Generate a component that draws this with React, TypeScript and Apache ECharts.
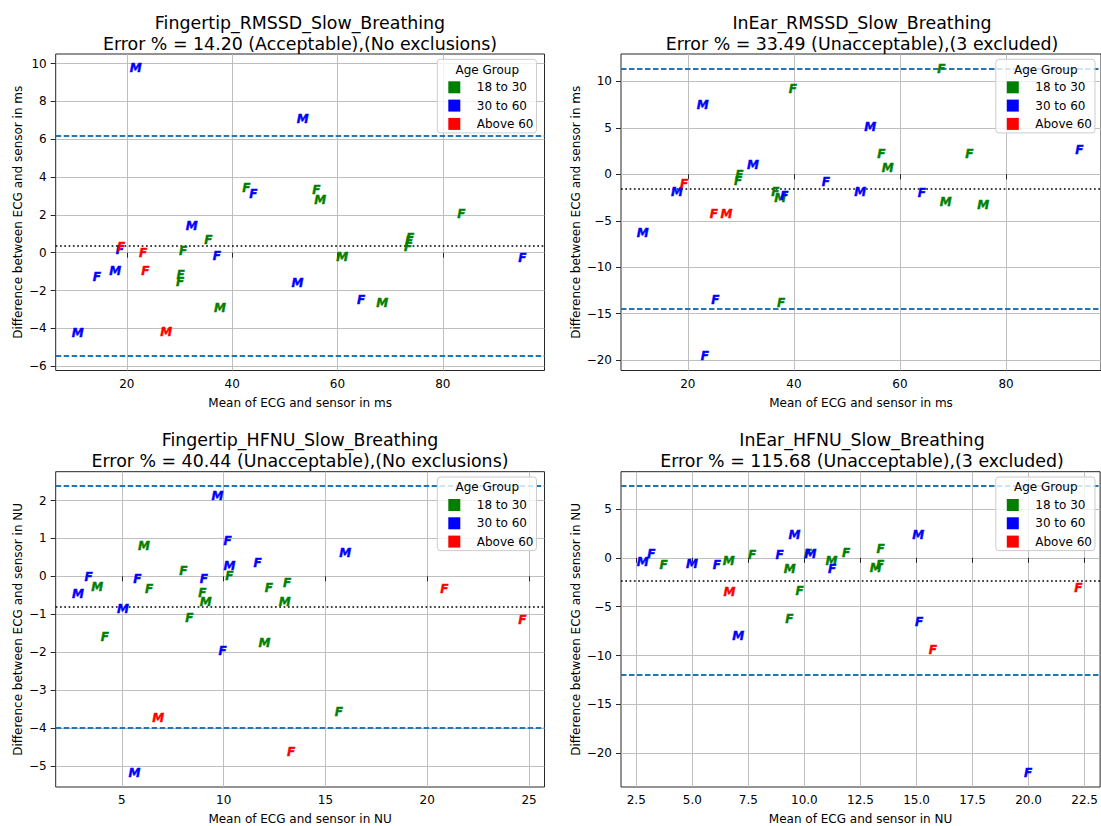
import React, { useEffect, useRef } from 'react';
import * as echarts from 'echarts';

type Pt = [number, number, string, number]; // mean, difference, sex, age-group index

const groups = ['18 to 30', '30 to 60', 'Above 60'];
const groupColors = ['#008000', '#0000ff', '#ff0000'];

const titles = [
  'Fingertip_RMSSD_Slow_Breathing\nError % = 14.20 (Acceptable),(No exclusions)',
  'InEar_RMSSD_Slow_Breathing\nError % = 33.49 (Unacceptable),(3 excluded)',
  'Fingertip_HFNU_Slow_Breathing\nError % = 40.44 (Unacceptable),(No exclusions)',
  'InEar_HFNU_Slow_Breathing\nError % = 115.68 (Unacceptable),(3 excluded)',
];
const xNames = [
  'Mean of ECG and sensor in ms',
  'Mean of ECG and sensor in ms',
  'Mean of ECG and sensor in NU',
  'Mean of ECG and sensor in NU',
];
const yNames = [
  'Difference between ECG and sensor in ms',
  'Difference between ECG and sensor in ms',
  'Difference between ECG and sensor in NU',
  'Difference between ECG and sensor in NU',
];

const fingertipRmssd: Pt[] = [
  [21.7, 9.75, 'M', 1], [53.4, 7.09, 'M', 1], [42.7, 3.44, 'F', 0], [44.0, 3.10, 'F', 1],
  [56.0, 3.30, 'F', 0], [56.7, 2.80, 'M', 0], [83.5, 2.03, 'F', 0], [32.3, 1.41, 'M', 1],
  [35.5, 0.67, 'F', 0], [30.7, 0.09, 'F', 0], [37.1, -0.19, 'F', 1], [18.7, 0.14, 'F', 1],
  [18.9, 0.28, 'F', 2], [23.1, 0.0, 'F', 2], [23.5, -0.99, 'F', 2], [30.2, -1.18, 'F', 0],
  [30.1, -1.55, 'F', 0], [17.8, -0.99, 'M', 1], [14.3, -1.27, 'F', 1], [60.9, -0.23, 'M', 0],
  [73.4, 0.30, 'F', 0], [73.6, 0.60, 'F', 0], [73.8, 0.78, 'F', 0], [95.1, -0.26, 'F', 1],
  [52.4, -1.62, 'M', 1], [64.5, -2.50, 'F', 1], [68.5, -2.65, 'M', 0], [37.7, -2.95, 'M', 0],
  [10.7, -4.23, 'M', 1], [27.5, -4.18, 'M', 2],
];
const inEarRmssd: Pt[] = [
  [67.8, 11.33, 'F', 0], [39.8, 9.14, 'F', 0], [22.8, 7.46, 'M', 1], [54.4, 5.13, 'M', 1],
  [56.5, 2.15, 'F', 0], [93.8, 2.58, 'F', 1], [73.1, 2.22, 'F', 0], [57.7, 0.72, 'M', 0],
  [32.3, 1.00, 'M', 1], [29.7, -0.04, 'F', 0], [29.5, -0.72, 'F', 0], [19.3, -1.08, 'F', 2],
  [17.97, -1.86, 'M', 1], [46.0, -0.86, 'F', 1], [52.5, -1.90, 'M', 1], [64.1, -1.97, 'F', 1],
  [36.5, -1.90, 'F', 0], [37.4, -2.51, 'M', 0], [38.2, -2.37, 'F', 1], [68.6, -2.94, 'M', 0],
  [75.7, -3.26, 'M', 0], [24.9, -4.30, 'F', 2], [27.3, -4.30, 'M', 2], [11.5, -6.27, 'M', 1],
  [25.2, -13.48, 'F', 1], [37.6, -13.9, 'F', 0], [23.2, -19.57, 'F', 1],
];
const fingertipHfnu: Pt[] = [
  [9.69, 2.12, 'M', 1], [10.19, 0.92, 'F', 1], [6.09, 0.80, 'M', 0], [15.97, 0.61, 'M', 1],
  [10.29, 0.27, 'M', 1], [11.67, 0.34, 'F', 1], [8.02, 0.13, 'F', 0], [10.28, 0.0, 'F', 0],
  [3.36, -0.03, 'F', 1], [5.76, -0.07, 'F', 1], [9.03, -0.07, 'F', 1], [3.79, -0.29, 'M', 0],
  [6.34, -0.33, 'F', 0], [12.22, -0.30, 'F', 0], [13.12, -0.18, 'F', 0], [20.84, -0.33, 'F', 2],
  [2.84, -0.47, 'M', 1], [8.95, -0.45, 'F', 0], [9.12, -0.67, 'M', 0], [13.0, -0.67, 'M', 0],
  [5.05, -0.86, 'M', 1], [8.31, -1.10, 'F', 0], [24.67, -1.15, 'F', 2], [4.16, -1.60, 'F', 0],
  [12.0, -1.77, 'M', 0], [9.95, -1.97, 'F', 1], [15.66, -3.58, 'F', 0], [6.78, -3.74, 'M', 2],
  [13.31, -4.64, 'F', 2], [5.62, -5.18, 'M', 1],
];
const inEarHfnu: Pt[] = [
  [9.56, 2.34, 'M', 1], [15.08, 2.31, 'M', 1], [13.40, 0.92, 'F', 0], [3.17, 0.41, 'F', 1],
  [11.86, 0.48, 'F', 0], [7.67, 0.24, 'F', 0], [8.89, 0.31, 'F', 1], [10.15, 0.40, 'F', 0],
  [10.27, 0.37, 'M', 1], [2.79, -0.44, 'M', 1], [3.72, -0.75, 'F', 0], [4.98, -0.65, 'M', 1],
  [6.09, -0.71, 'F', 1], [6.63, -0.37, 'M', 0], [11.21, -0.31, 'M', 0], [11.23, -1.12, 'F', 1],
  [9.34, -1.12, 'M', 0], [13.18, -1.09, 'M', 0], [13.38, -0.71, 'F', 0], [6.66, -3.53, 'M', 2],
  [9.79, -3.40, 'F', 0], [22.22, -3.09, 'F', 2], [9.33, -6.28, 'F', 0], [15.12, -6.56, 'F', 1],
  [7.05, -8.02, 'M', 1], [15.73, -9.48, 'F', 2], [19.98, -21.98, 'F', 1],
];

const meanDiff = [0.37, -1.51, -0.81, -2.31];
const upperLoA = [6.19, 11.40, 2.38, 7.34];
const lowerLoA = [-5.45, -14.44, -3.99, -11.92];

const xTicks = [
  [20, 40, 60, 80],
  [20, 40, 60, 80],
  [5, 10, 15, 20, 25],
  [2.5, 5, 7.5, 10, 12.5, 15, 17.5, 20, 22.5],
];
const yTicks = [
  [-6, -4, -2, 0, 2, 4, 6, 8, 10],
  [-20, -15, -10, -5, 0, 5, 10],
  [-5, -4, -3, -2, -1, 0, 1, 2],
  [-20, -15, -10, -5, 0, 5],
];
const xLimits = [[6.5, 99.3], [7.4, 97.9], [1.75, 25.76], [1.82, 23.19]];
const yLimits = [[-6.23, 10.51], [-21.12, 12.95], [-5.56, 2.76], [-23.45, 8.81]];
const xDecimals = [0, 0, 0, 1];

const panelData = [fingertipRmssd, inEarRmssd, fingertipHfnu, inEarHfnu];

const FONT = 'DejaVu Sans';
const layout = [
  { left: 55.7, top: 54, width: 488.8, height: 316.5, cx: 300, legendLeft: 437.3, yGap: 32 },
  { left: 621, top: 54, width: 482, height: 316.5, cx: 862, legendLeft: 995.8, yGap: 39 },
  { left: 55.7, top: 471.7, width: 488.8, height: 316.6, cx: 300, legendLeft: 437.3, yGap: 32 },
  { left: 621, top: 471.7, width: 482, height: 316.6, cx: 862, legendLeft: 995.8, yGap: 39 },
];

const fmt = (v: number, d: number) => {
  const s = Math.abs(v).toFixed(d);
  return v < 0 ? '\u2212' + s : s;
};

function buildOption() {
  const grid: any[] = [];
  const xAxis: any[] = [];
  const yAxis: any[] = [];
  const series: any[] = [];
  const legend: any[] = [];
  const title: any[] = [];
  const graphic: any[] = [];

  layout.forEach((L, i) => {
    grid.push({
      left: L.left, top: L.top, width: L.width, height: L.height,
      show: true, borderColor: '#262626', borderWidth: 1, backgroundColor: 'transparent',
    });
    const xi = xTicks[i][1] - xTicks[i][0];
    const yi = yTicks[i][1] - yTicks[i][0];
    xAxis.push({
      type: 'value', gridIndex: i, min: xLimits[i][0], max: xLimits[i][1],
      minInterval: xi, maxInterval: xi,
      name: xNames[i], nameLocation: 'middle', nameGap: 26,
      nameTextStyle: { fontSize: 12, color: '#000', fontFamily: FONT },
      axisLine: { show: false },
      axisTick: { show: true, length: 5, customValues: xTicks[i], lineStyle: { color: '#262626', width: 1 } },
      axisLabel: {
        customValues: xTicks[i], margin: 7, fontSize: 12, color: '#000', fontFamily: FONT,
        formatter: (v: number) => fmt(v, xDecimals[i]),
      },
      splitLine: { show: true, lineStyle: { color: '#b8b8b8', width: 0.9 } },
    });
    yAxis.push({
      type: 'value', gridIndex: i, min: yLimits[i][0], max: yLimits[i][1],
      minInterval: yi, maxInterval: yi,
      name: yNames[i], nameLocation: 'middle', nameGap: L.yGap,
      nameTextStyle: { fontSize: 12, color: '#000', fontFamily: FONT },
      axisLine: { show: false },
      axisTick: { show: true, length: 5, customValues: yTicks[i], lineStyle: { color: '#262626', width: 1 } },
      axisLabel: {
        customValues: yTicks[i], margin: 9, fontSize: 12, color: '#000', fontFamily: FONT,
        formatter: (v: number) => fmt(v, 0),
      },
      splitLine: { show: true, lineStyle: { color: '#b8b8b8', width: 0.9 } },
    });

    series.push({
      type: 'line', name: 'limits' + i, xAxisIndex: i, yAxisIndex: i, data: [], z: 2,
      markLine: {
        silent: true, symbol: ['none', 'none'], label: { show: false }, animation: false,
        data: [
          { yAxis: upperLoA[i], lineStyle: { color: '#1f77b4', width: 1.8, type: [5.5, 2.5] } },
          { yAxis: lowerLoA[i], lineStyle: { color: '#1f77b4', width: 1.8, type: [5.5, 2.5] } },
          { yAxis: meanDiff[i], lineStyle: { color: '#000', width: 1.7, type: [1.7, 2.6] } },
        ],
      },
    });

    groups.forEach((g, gi) => {
      const pts = panelData[i].filter((p) => p[3] === gi);
      series.push({
        type: 'custom', name: g, xAxisIndex: i, yAxisIndex: i, z: 5,
        itemStyle: { color: groupColors[gi] },
        data: pts.map((p) => [p[0], p[1]]),
        renderItem: (params: any, api: any) => {
          const p = pts[params.dataIndex];
          const c = api.coord([p[0], p[1]]);
          return {
            type: 'text', x: c[0], y: c[1],
            style: {
              text: p[2], fill: groupColors[gi], stroke: groupColors[gi], lineWidth: 0.4,
              fontSize: 12, fontWeight: 'bold',
              fontStyle: 'italic', fontFamily: FONT, align: 'center', verticalAlign: 'middle',
            },
          };
        },
      });
    });

    legend.push({
      orient: 'vertical', left: L.legendLeft, top: L.top + 5.3,
      itemWidth: 12, itemHeight: 12, itemGap: 6.3, padding: [22, 3, 3, 11],
      backgroundColor: 'rgba(255,255,255,0.8)', borderColor: '#cccccc', borderWidth: 1, borderRadius: 3,
      formatter: (name: string) => '\u00a0\u00a0\u00a0' + name,
      textStyle: { fontSize: 12, color: '#000', fontFamily: FONT },
      selectedMode: false, z: 10, icon: 'rect',
      data: groups.map((g, gi) => ({ name: g, icon: 'rect', itemStyle: { color: groupColors[gi] } })),
    });

    graphic.push({
      type: 'text', x: L.legendLeft + 50, y: L.top + 15.5, z: 30,
      style: { text: 'Age Group', fontSize: 12, fontFamily: FONT, fill: '#000', align: 'center', verticalAlign: 'middle' },
    });

    title.push({
      text: titles[i], left: L.cx, top: L.top - 42, padding: 0,
      textAlign: 'center', textVerticalAlign: 'top',
      textStyle: { fontSize: 17.4, fontWeight: 'normal', color: '#000', fontFamily: FONT, lineHeight: 21 },
    });
  });

  return { animation: false, backgroundColor: '#fff', title, grid, xAxis, yAxis, series, legend, graphic };
}

export default function App() {
  const ref = useRef<HTMLDivElement>(null);
  useEffect(() => {
    document.body.style.margin = '0';
    const chart = echarts.init(ref.current!, undefined, { renderer: 'svg' });
    chart.setOption(buildOption() as any);
    return () => chart.dispose();
  }, []);
  return <div ref={ref} style={{ width: 1101, height: 826 }} />;
}
